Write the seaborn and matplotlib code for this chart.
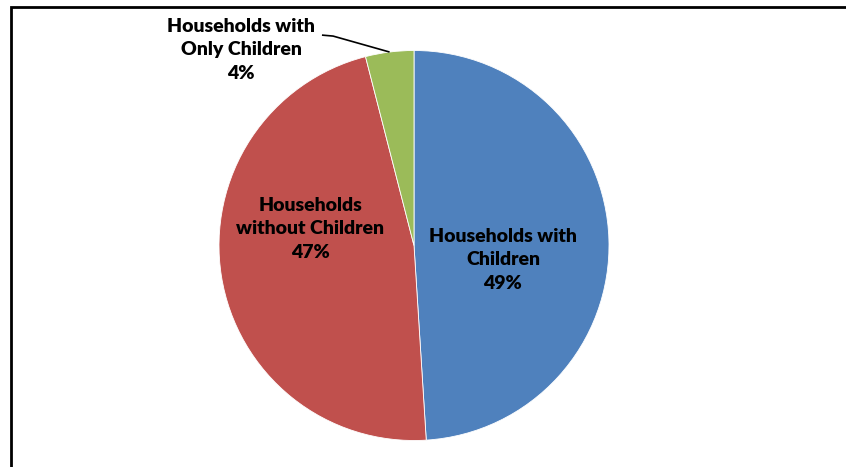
import numpy as np
import matplotlib
matplotlib.use("Agg")
import matplotlib.pyplot as plt
from matplotlib.patches import Rectangle
import seaborn as sns

# Household composition shares (percent)
categories = ["Households with\nChildren",
              "Households\nwithout Children",
              "Households with\nOnly Children"]
shares = [49, 47, 4]
colors = ["#4F81BD", "#C0504D", "#9BBB59"]

sns.set_theme(style="white")
plt.rcParams["font.family"] = ["Lato", "DejaVu Sans"]

W, H = 846, 467
fig = plt.figure(figsize=(W / 100, H / 100), dpi=100)
fig.patch.set_facecolor("white")

# chart frame (left and top edges visible)
fig.patches.append(Rectangle((11 / W, -0.1), 2.0, 1.1 - 7 / H,
                             transform=fig.transFigure, fill=False,
                             edgecolor="black", linewidth=2.0))

cx, cy, r = 414, 245.5, 195
ax = fig.add_axes([(cx - r) / W, (H - cy - r) / H, 2 * r / W, 2 * r / H])
ax.set_axis_off()

wedges, _ = ax.pie(shares, colors=colors, startangle=90, counterclock=False,
                   radius=1.0, wedgeprops=dict(edgecolor="white", linewidth=0.6))
ax.set_xlim(-1, 1)
ax.set_ylim(-1, 1)
ax.set_aspect("equal")

label_pos = [(0.456, -0.074), (-0.533, 0.085), (-0.887, 1.003)]
txt = dict(ha="center", va="center", fontsize=14.0, fontweight="heavy",
           color="black", linespacing=1.46)
for cat, val, (x, y) in zip(categories, shares, label_pos):
    ax.text(x, y, f"{cat}\n{val}%", clip_on=False, **txt)

# leader line from the small slice to its outside label
w = wedges[2]
mid = np.deg2rad((w.theta1 + w.theta2) / 2)
ex, ey = np.cos(mid), np.sin(mid)
ax.plot([-0.472, -0.415, ex], [1.079, 1.074, ey], color="black",
        linewidth=1.2, clip_on=False, solid_capstyle="butt")

fig.savefig("out.png", dpi=100, facecolor="white")
